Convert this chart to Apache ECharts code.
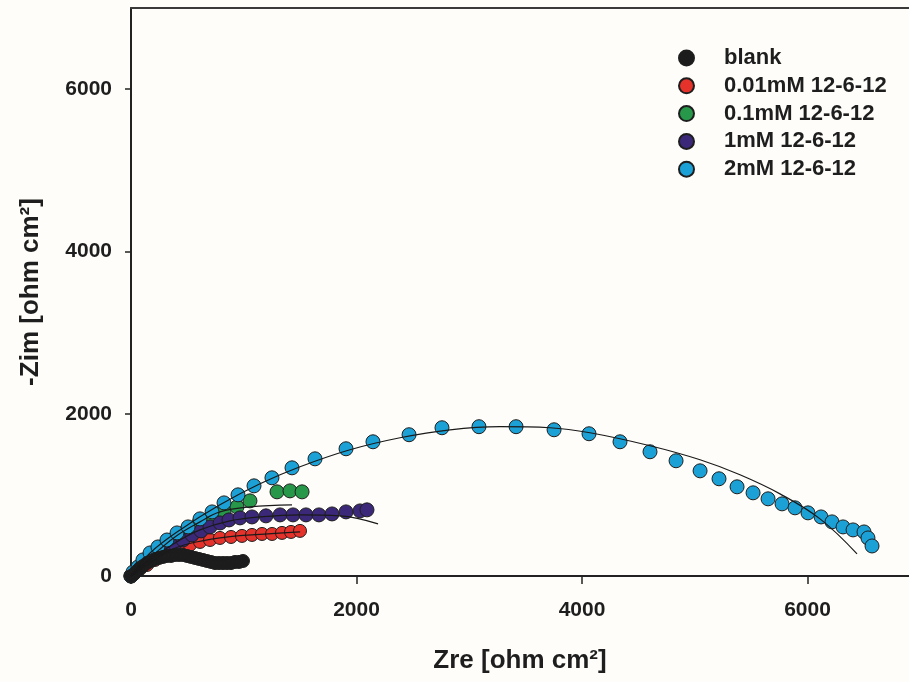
<!DOCTYPE html>
<html>
<head>
<meta charset="utf-8">
<script src="https://cdn.jsdelivr.net/npm/echarts@6/dist/echarts.min.js"></script>
<style>
  html, body { margin: 0; padding: 0; background: #fefdf9; }
  #chart { width: 909px; height: 682px; }
</style>
</head>
<body>
<div id="chart"></div>
<script>
// Nyquist data: [Zre, -Zim] in ohm cm2
const seriesNames = ['blank', '0.01mM 12-6-12', '0.1mM 12-6-12', '1mM 12-6-12', '2mM 12-6-12'];

const blank = [
  [0,0],[27,25],[53,62],[80,99],[106,123],[142,160],[177,185],[213,210],[248,222],[284,235],
  [319,247],[355,247],[390,259],[426,259],[461,259],[497,247],[532,235],[568,222],[603,210],
  [639,198],[674,185],[710,173],[745,160],[780,160],[816,160],[851,160],[887,160],[922,173],
  [958,173],[993,185]
];
const c001 = [
  [0,0],[35,49],[80,86],[142,136],[213,198],[284,247],[364,296],[443,346],[523,383],[612,420],
  [701,444],[789,469],[887,481],[984,494],[1073,506],[1162,518],[1251,518],[1339,531],[1419,543],[1499,556]
];
const c01 = [
  [0,0],[44,62],[98,136],[160,222],[231,309],[310,395],[399,481],[497,568],[603,654],[710,728],
  [825,790],[940,852],[1055,926],[1295,1037],[1410,1049],[1517,1037]
];
const c1 = [
  [0,0],[27,37],[62,86],[106,136],[151,185],[204,235],[257,284],[319,333],[390,395],[461,444],
  [541,506],[621,556],[701,605],[790,654],[869,691],[967,716],[1073,728],[1197,741],[1322,753],
  [1437,753],[1552,753],[1667,753],[1783,765],[1907,790],[2031,802],[2093,815]
];
const c2 = [
  [0,0],[18,49],[62,111],[106,198],[169,284],[239,358],[319,444],[408,531],[506,605],[612,704],
  [719,790],[825,901],[949,1000],[1091,1111],[1250,1210],[1428,1333],[1632,1444],[1907,1568],
  [2146,1654],[2466,1741],[2758,1827],[3086,1840],[3415,1840],[3752,1802],[4062,1753],[4337,1654],
  [4603,1531],[4834,1420],[5047,1296],[5215,1198],[5375,1099],[5517,1025],[5650,951],[5774,889],
  [5889,840],[6004,778],[6120,728],[6217,667],[6315,605],[6404,568],[6501,543],[6536,469],[6572,370]
];

// Equivalent-circuit fit curves
const fit001 = [[0,0],[142,136],[320,300],[520,400],[790,470],[1100,510],[1500,545]];
const fit01 = [[0,0],[169,222],[390,481],[612,667],[789,790],[1055,852],[1428,877]];
const fit1 = [[0,0],[169,198],[390,407],[612,568],[878,679],[1144,728],[1499,753],[1854,741],[2191,642]];
const fit2 = [
  [0,0],[169,284],[435,568],[789,877],[1144,1136],[1499,1346],[1942,1556],[2386,1704],[2829,1802],
  [3273,1840],[3716,1827],[4071,1765],[4603,1605],[5047,1432],[5401,1247],[5756,1012],[6111,704],[6439,272]
];

const tickValues = [0, 2000, 4000, 6000];

const colors = ['#1c1c1c', '#e5322b', '#27984a', '#3b2878', '#1ba1d6'];
const sizes = [13, 13, 14, 14, 14];
const pointSets = [blank, c001, c01, c1, c2];
const fitSets = [fit001, fit01, fit1, fit2];

const FONT = "'Liberation Sans', Arial, sans-serif";
const INK = '#1e1e1e';

const scatterSeries = pointSets.map((d, i) => ({
  name: seriesNames[i],
  type: 'scatter',
  data: d,
  symbol: 'circle',
  symbolSize: sizes[i],
  itemStyle: { color: colors[i], borderColor: '#1e1e1e', borderWidth: 1, opacity: 1 },
  z: i === 0 ? 8 : 2 + i,
  emphasis: { disabled: true }
}));

const fitSeries = fitSets.map((d) => ({
  type: 'line',
  data: d,
  smooth: 0.4,
  showSymbol: false,
  symbol: 'none',
  lineStyle: { color: '#1a1a1a', width: 1.2 },
  z: 9,
  silent: true
}));

const plainNumber = (v) => String(v);

const chart = echarts.init(document.getElementById('chart'), null, { renderer: 'canvas' });
chart.setOption({
  backgroundColor: '#fefdf9',
  animation: false,
  grid: { left: 131, top: 8, right: 0, bottom: 106 },
  legend: {
    data: seriesNames,
    orient: 'vertical',
    left: 673,
    top: 42,
    itemWidth: 15,
    itemHeight: 15,
    itemGap: 5.8,
    icon: 'circle',
    textStyle: { fontFamily: FONT, fontWeight: 'bold', fontSize: 22, color: INK, padding: [0, 0, 0, 25], lineHeight: 22 }
  },
  xAxis: [{
    type: 'value', min: 0, max: 6900, interval: 2000,
    name: 'Zre [ohm cm²]', nameLocation: 'middle', nameGap: 72,
    nameTextStyle: { fontFamily: FONT, fontWeight: 'bold', fontSize: 26, color: INK },
    axisLine: { show: true, lineStyle: { color: '#222', width: 2 } },
    axisTick: { show: true, inside: false, length: 8, customValues: tickValues, lineStyle: { color: '#222', width: 1.5 } },
    axisLabel: { customValues: tickValues, formatter: plainNumber, margin: 24, fontFamily: FONT, fontWeight: 'bold', fontSize: 21, color: INK },
    splitLine: { show: false }
  }, {
    // top frame line only
    type: 'value', position: 'top', min: 0, max: 6900,
    axisLine: { show: true, onZero: false, lineStyle: { color: '#3a3a3a', width: 2 } },
    axisTick: { show: false }, axisLabel: { show: false }, splitLine: { show: false }
  }],
  yAxis: {
    type: 'value', min: 0, max: 7000, interval: 2000,
    name: '-Zim [ohm cm²]', nameLocation: 'middle', nameGap: 87, nameRotate: 90,
    nameTextStyle: { fontFamily: FONT, fontWeight: 'bold', fontSize: 26, color: INK },
    axisLine: { show: true, lineStyle: { color: '#222', width: 2 } },
    axisTick: { show: true, inside: false, length: 6, customValues: tickValues, lineStyle: { color: '#222', width: 1.5 } },
    axisLabel: { customValues: tickValues, formatter: plainNumber, margin: 19, fontFamily: FONT, fontWeight: 'bold', fontSize: 21, color: INK },
    splitLine: { show: false }
  },
  series: scatterSeries.concat(fitSeries)
});
</script>
</body>
</html>
